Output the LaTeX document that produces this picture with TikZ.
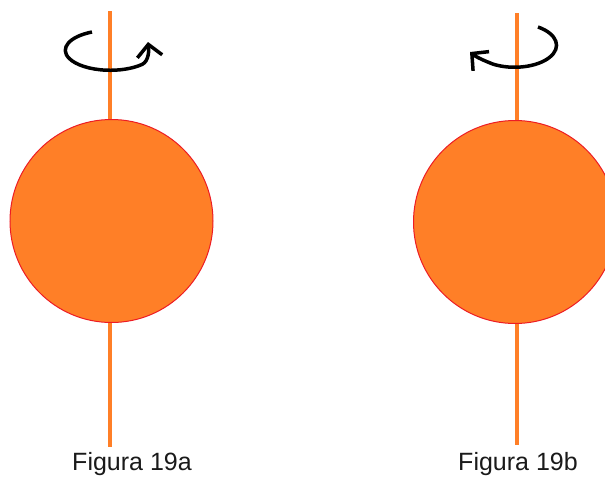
\documentclass[tikz,border=0pt]{standalone}
\usepackage{fontspec}
\setmainfont{Liberation Sans}
\usepackage{tikz}
\usetikzlibrary{arrows.meta, positioning}
\definecolor{paintorange}{HTML}{FF7F27}
\definecolor{paintred}{HTML}{ED1C24}
\definecolor{ink}{HTML}{1A1A1A}
\tikzset{
  axisline/.style={draw=paintorange, line width=4.5pt},
  sphere/.style={
    circle, minimum size=203pt, inner sep=0pt,
    fill=paintorange, draw=paintred, line width=1pt,
  },
  spin/.style={
    -{Straight Barb[length=12pt, width=25pt, line width=3.5pt]},
    line width=3.5pt, color=black,
  },
  caption/.style={font=\fontsize{25}{30}\selectfont, text=ink, anchor=base},
}

\begin{document}
\begin{tikzpicture}[x=1pt, y=-1pt]

  \useasboundingbox (0,0) rectangle (605,477);

  % Figura 19a
  \coordinate (topA) at (110,11);
  \coordinate (botA) at (110,447);
  \draw[axisline] (topA) -- (botA);
  \node[sphere] (ballA) at (111.5,221) {};
  \coordinate (tipA) at (148,42);
  \draw[spin] (92,32) arc[start angle=-114, end angle=-315, x radius=45, y radius=20]
    .. controls (149,61) and (149,50) .. (tipA);
  \node[caption] (capA) at (132,470) {Figura 19a};

  % Figura 19b
  \coordinate (topB) at (517,13);
  \coordinate (botB) at (517,445);
  \draw[axisline] (topB) -- (botB);
  \node[sphere] (ballB) at (515,222) {};
  \coordinate (tipB) at (470,52);
  \draw[spin] (538,27) arc[start angle=-56, end angle=120, x radius=42, y radius=22]
    .. controls (486,61.5) and (476,57) .. (tipB);
  \node[caption] (capB) at (518,470) {Figura 19b};

\end{tikzpicture}
\end{document}
